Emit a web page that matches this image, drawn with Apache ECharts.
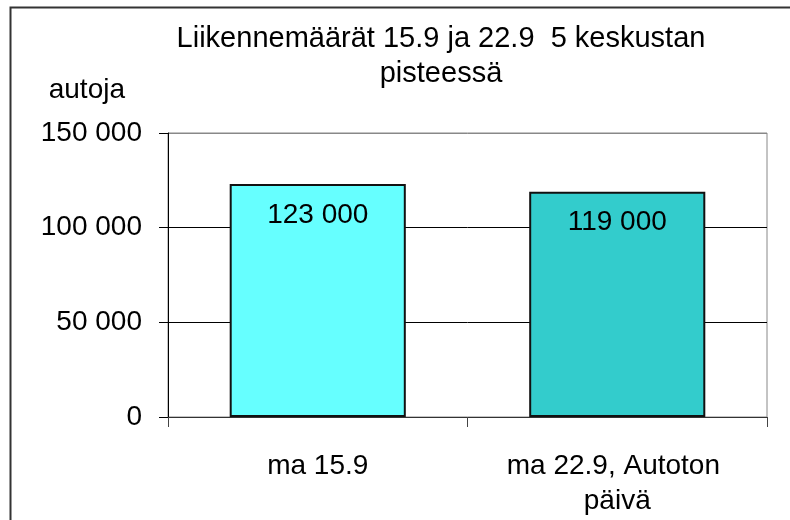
<!DOCTYPE html>
<html>
<head>
<meta charset="UTF-8">
<title></title>
<style>html,body{margin:0;padding:0;background:#fff;}#charts{width:790px;height:520px;}</style>
</head>
<body>
<div id="charts"></div>
<script src="https://cdn.jsdelivr.net/npm/echarts@6/dist/echarts.min.js"></script>
<script>
var categories = ['ma 15.9', 'ma 22.9, Autoton päivä'];
var values = [123000, 119000];
var barColors = ['#66FFFF', '#33CCCC'];
var yTicks = [0, 50000, 100000, 150000];

var FONT = "'Liberation Sans', Arial, sans-serif";

// 150000 -> "150 000"
function fmt(v) {
    return String(v).replace(/\B(?=(\d{3})+(?!\d))/g, ' ');
}

var mycharts = echarts.init(document.getElementById('charts'));

var option = {
    backgroundColor: '#fff',
    animation: false,
    textStyle: { fontFamily: FONT, color: '#000' },
    title: {
        text: 'Liikennemäärät 15.9 ja 22.9  5 keskustan\npisteessä',
        left: 436,
        top: 16,
        textAlign: 'center',
        textStyle: { fontFamily: FONT, fontSize: 29, fontWeight: 'normal', color: '#000', lineHeight: 35 }
    },
    // outer frame
    graphic: [{
        type: 'rect',
        shape: { x: 10.5, y: 7.5, width: 820, height: 560 },
        style: { fill: null, stroke: '#333', lineWidth: 2 },
        silent: true
    }],
    grid: {
        left: 168, right: 23, top: 133, bottom: 103,
        show: true, borderColor: '#888', borderWidth: 1
    },
    xAxis: {
        type: 'category',
        data: categories,
        axisLine: { lineStyle: { color: '#333', width: 1 } },
        axisTick: { show: true, interval: 0, alignWithLabel: false, length: 10, lineStyle: { color: '#444' } },
        axisLabel: {
            interval: 0, hideOverlap: false,
            margin: 32, fontSize: 28, color: '#000', fontFamily: FONT,
            width: 250, overflow: 'break', lineHeight: 35
        }
    },
    yAxis: {
        type: 'value',
        min: yTicks[0],
        max: yTicks[yTicks.length - 1],
        interval: yTicks[1] - yTicks[0],
        name: 'autoja',
        nameLocation: 'end',
        nameGap: 29,
        nameTextStyle: { fontSize: 28, color: '#000', fontFamily: FONT, align: 'right', padding: [0, 43, 0, 0] },
        axisLine: { show: true, lineStyle: { color: '#000', width: 1 } },
        axisTick: { show: true, length: 9, lineStyle: { color: '#000' } },
        axisLabel: { margin: 26, fontSize: 28, color: '#000', fontFamily: FONT, formatter: fmt },
        splitLine: { show: true, lineStyle: { color: ['#000', '#000', '#000', '#888'], width: 1 } }
    },
    series: [{
        type: 'bar',
        data: values.map(function (v, i) {
            return { value: v, itemStyle: { color: barColors[i] } };
        }),
        barWidth: '58.8%',
        itemStyle: { borderColor: '#111', borderWidth: 2 },
        label: {
            show: true, position: 'insideTop', distance: 17,
            fontSize: 28, color: '#000', fontFamily: FONT,
            formatter: function (p) { return fmt(p.value); }
        }
    }]
};
mycharts.setOption(option);
</script>
</body>
</html>
